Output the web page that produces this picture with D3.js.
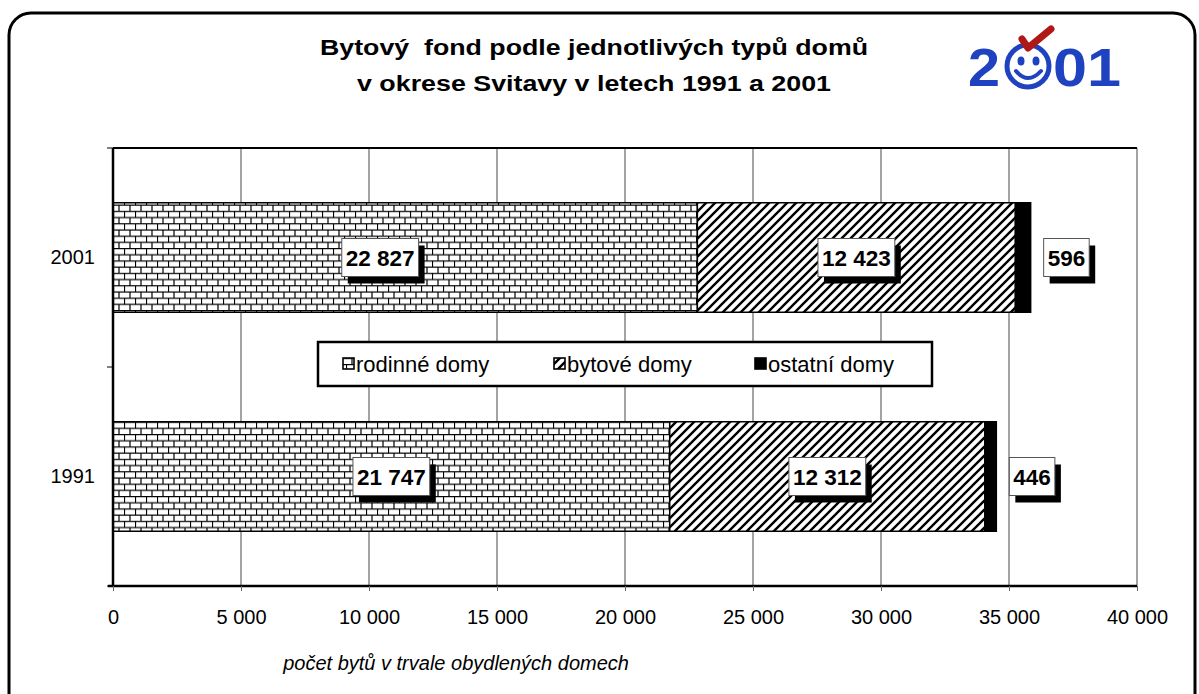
<!DOCTYPE html>
<html>
<head>
<meta charset="utf-8">
<script src="https://cdn.jsdelivr.net/npm/d3@7"></script>
<style>
  body { margin: 0; background: #fff; }
  svg { display: block; font-family: Arial, "Liberation Sans", sans-serif; }
</style>
</head>
<body>
<div id="chart"></div>
<script>
// Data
const years = ["2001", "1991"];
const houseTypes = ["rodinné domy", "bytové domy", "ostatní domy"];
const values2001 = [22827, 12423, 596];
const values1991 = [21747, 12312, 446];
const xTicks = [0, 5000, 10000, 15000, 20000, 25000, 30000, 35000, 40000];

const title = ["Bytový  fond podle jednotlivých typů domů", "v okrese Svitavy v letech 1991 a 2001"];
const xTitle = "počet bytů v trvale obydlených domech";

const width = 1199, height = 694;
const marginLeft = 113, marginRight = 62, marginTop = 148, marginBottom = 108;

const rows = [values2001, values1991].map((v, i) => {
  const d = { year: years[i] };
  houseTypes.forEach((t, j) => (d[t] = v[j]));
  return d;
});

const series = d3.stack().keys(houseTypes)(rows);

const x = d3.scaleLinear([0, 40000], [marginLeft, width - marginRight]);
const y = d3.scaleBand(years, [marginTop, height - marginBottom])
  .paddingInner(0.5)
  .paddingOuter(0.25);

const fmt = (n) => d3.format(",")(n).replace(/,/g, " ");

const svg = d3.select("#chart")
  .append("svg")
  .attr("width", width)
  .attr("height", height)
  .attr("viewBox", [0, 0, width, height]);

// patterns
const defs = svg.append("defs");
const brick = defs.append("pattern")
  .attr("id", "brick")
  .attr("patternUnits", "userSpaceOnUse")
  .attr("x", marginLeft).attr("y", 0)
  .attr("width", 11).attr("height", 12.4);
brick.append("rect").attr("width", 11).attr("height", 12.4).attr("fill", "#fff");
brick.append("path")
  .attr("d", "M0,0.5H11M0,6.7H11M0.5,0V6.2M6,6.2V12.4")
  .attr("stroke", "#000").attr("stroke-width", 1.2).attr("fill", "none");

const hatch = defs.append("pattern")
  .attr("id", "hatch")
  .attr("patternUnits", "userSpaceOnUse")
  .attr("width", 9).attr("height", 9);
hatch.append("rect").attr("width", 9).attr("height", 9).attr("fill", "#fff");
hatch.append("path")
  .attr("d", "M-2,2L2,-2M0,9L9,0M7,11L11,7")
  .attr("stroke", "#000").attr("stroke-width", 2.4);

const fills = { "rodinné domy": "url(#brick)", "bytové domy": "url(#hatch)", "ostatní domy": "#000" };

// outer frame
svg.append("rect")
  .attr("x", 9).attr("y", 13)
  .attr("width", 1186).attr("height", 720)
  .attr("rx", 22)
  .attr("fill", "none").attr("stroke", "#000").attr("stroke-width", 3);

// title (the original text is drawn a bit wider than the font)
const titleWidths = [548, 474];
svg.append("g")
  .selectAll("text")
  .data(title)
  .join("text")
  .attr("x", 594)
  .attr("y", (d, i) => 55 + i * 36)
  .attr("text-anchor", "middle")
  .attr("font-size", 22)
  .attr("font-weight", "bold")
  .attr("textLength", (d, i) => titleWidths[i])
  .attr("lengthAdjust", "spacingAndGlyphs")
  .attr("xml:space", "preserve")
  .style("white-space", "pre")
  .text((d) => d);

// logo 2☺01
const blue = "#1f42c0";
const logo = svg.append("g").attr("fill", blue)
  .attr("font-family", "Liberation Sans, Arial, sans-serif").attr("font-weight", "bold");
logo.append("text").attr("x", 968).attr("y", 86)
  .attr("font-size", 54)
  .attr("textLength", 32).attr("lengthAdjust", "spacingAndGlyphs")
  .text("2");
logo.append("circle").attr("cx", 1028).attr("cy", 66).attr("r", 21)
  .attr("fill", "none").attr("stroke", blue).attr("stroke-width", 5);
logo.append("ellipse").attr("cx", 1021).attr("cy", 61).attr("rx", 3.5).attr("ry", 4.5);
logo.append("ellipse").attr("cx", 1036).attr("cy", 61).attr("rx", 3.5).attr("ry", 4.5);
logo.append("path").attr("d", "M1016,71 Q1028,85 1041,71")
  .attr("fill", "none").attr("stroke", blue).attr("stroke-width", 4).attr("stroke-linecap", "round");
logo.append("text").attr("x", 1053).attr("y", 86)
  .attr("font-size", 54)
  .attr("textLength", 68).attr("lengthAdjust", "spacingAndGlyphs")
  .text("01");
svg.append("path")
  .attr("d", "M1022,39 L1028,48 L1051,29")
  .attr("fill", "none").attr("stroke", "#b01818").attr("stroke-width", 7)
  .attr("stroke-linecap", "round").attr("stroke-linejoin", "round");

// gridlines
svg.append("g")
  .selectAll("line")
  .data(xTicks.slice(1))
  .join("line")
  .attr("x1", (d) => x(d)).attr("x2", (d) => x(d))
  .attr("y1", marginTop).attr("y2", height - marginBottom)
  .attr("stroke", "#666").attr("stroke-width", 1.2);

// top border of plot area
svg.append("line")
  .attr("x1", marginLeft).attr("x2", width - marginRight)
  .attr("y1", marginTop).attr("y2", marginTop)
  .attr("stroke", "#000").attr("stroke-width", 2);

// bars
svg.append("g")
  .selectAll("g")
  .data(series)
  .join("g")
  .attr("fill", (s) => fills[s.key])
  .selectAll("rect")
  .data((s) => s)
  .join("rect")
  .attr("x", (d) => x(d[0]))
  .attr("y", (d) => y(d.data.year))
  .attr("width", (d) => x(d[1]) - x(d[0]))
  .attr("height", y.bandwidth())
  .attr("stroke", "#000")
  .attr("stroke-width", 1.5);

// x axis
const xAxis = svg.append("g")
  .attr("transform", `translate(0,${height - marginBottom})`)
  .call(d3.axisBottom(x).tickValues(xTicks).tickFormat(fmt).tickSize(5).tickPadding(19))
  .call((g) => g.select(".domain").attr("stroke-width", 2.5).attr("d", `M${marginLeft - 5},0H${width - marginRight}`));
xAxis.selectAll(".tick line").attr("stroke", "#666");
xAxis.selectAll(".tick text").attr("font-size", 20).attr("font-family", "Arial, Liberation Sans, sans-serif").attr("fill", "#000");

// y axis
const yAxis = svg.append("g")
  .attr("transform", `translate(${marginLeft},0)`)
  .call(d3.axisLeft(y).tickSize(0).tickPadding(18))
  .call((g) => g.select(".domain").attr("stroke-width", 2.5).attr("d", `M0,${marginTop}V${height - marginBottom}`));
yAxis.selectAll(".tick text").attr("font-size", 20).attr("font-family", "Arial, Liberation Sans, sans-serif").attr("fill", "#000");
const bounds = [marginTop, ...years.slice(1).map((d) => y(d) - y.step() * y.paddingInner() / 2), height - marginBottom];
yAxis.append("g")
  .selectAll("line")
  .data(bounds)
  .join("line")
  .attr("x1", -6).attr("x2", 0)
  .attr("y1", (d) => d).attr("y2", (d) => d)
  .attr("stroke", "#000");

// x title
svg.append("text")
  .attr("x", x(13400))
  .attr("y", 670)
  .attr("text-anchor", "middle")
  .attr("font-size", 20)
  .attr("font-style", "italic")
  .text(xTitle);

// value labels (the 2001 family-house label was dragged left in the original)
const labels = series.flatMap((s, j) =>
  s.map((d) => ({ value: d.data[s.key], year: d.data.year, key: s.key, x0: d[0], x1: d[1], inside: j < 2 }))
);
const nudge = (d) => (d.year === "2001" && d.key === "rodinné domy" ? -25 : 0);
const labelG = svg.append("g")
  .selectAll("g")
  .data(labels)
  .join("g")
  .attr("transform", (d) => {
    const cy = y(d.year) + y.bandwidth() / 2;
    return d.inside
      ? `translate(${(x(d.x0) + x(d.x1)) / 2 + nudge(d)},${cy})`
      : `translate(${x(d.x1) + 13},${cy})`;
  });
labelG.each(function (d) {
  const g = d3.select(this);
  const t = g.append("text")
    .attr("font-size", 22.5)
    .attr("font-weight", "bold")
    .attr("dy", "0.36em")
    .text(fmt(d.value));
  const w = t.node().getComputedTextLength() + 8;
  const bx = d.inside ? -w / 2 : 0;
  t.attr("x", bx + 4);
  g.insert("rect", "text")
    .attr("x", bx + 6).attr("y", -19 + 7)
    .attr("width", w).attr("height", 38)
    .attr("fill", "#000");
  g.insert("rect", "text")
    .attr("x", bx).attr("y", -19)
    .attr("width", w).attr("height", 38)
    .attr("fill", "#fff").attr("stroke", "#555").attr("stroke-width", 1);
});

// legend
const legend = svg.append("g");
legend.append("rect")
  .attr("x", 318).attr("y", 342)
  .attr("width", 614).attr("height", 44)
  .attr("fill", "#fff").attr("stroke", "#000").attr("stroke-width", 2.5);
const legendX = [343, 554, 755];
const items = legend.selectAll("g.item")
  .data(houseTypes)
  .join("g")
  .attr("class", "item")
  .attr("transform", (d, i) => `translate(${legendX[i]},364)`);
items.append("rect")
  .attr("x", 0).attr("y", -6)
  .attr("width", 11).attr("height", 11)
  .attr("fill", (d) => fills[d])
  .attr("stroke", "#000").attr("stroke-width", 1.6);
items.append("text")
  .attr("x", 13).attr("dy", "0.35em")
  .attr("font-size", 22)
  .text((d) => d);
</script>
</body>
</html>
